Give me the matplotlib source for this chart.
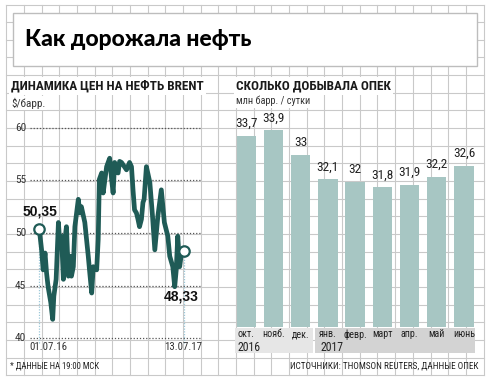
import matplotlib
matplotlib.use("Agg")
import matplotlib.pyplot as plt
import pandas as pd
from matplotlib import font_manager
from matplotlib.patches import Rectangle

# ---------------- data ----------------
brent_dates = [
    "2016-07-01", "2016-07-07", "2016-07-11", "2016-07-16", "2016-07-20", "2016-07-24",
    "2016-07-31", "2016-08-05", "2016-08-08", "2016-08-14", "2016-08-20", "2016-08-24",
    "2016-08-28", "2016-09-02", "2016-09-06", "2016-09-10", "2016-09-15", "2016-09-19",
    "2016-09-23", "2016-09-28", "2016-10-02", "2016-10-11", "2016-10-15", "2016-10-19",
    "2016-10-28", "2016-11-06", "2016-11-10", "2016-11-15", "2016-11-19", "2016-11-28",
    "2016-12-02", "2016-12-05", "2016-12-11", "2016-12-15", "2016-12-24", "2017-01-01",
    "2017-01-06", "2017-01-10", "2017-01-14", "2017-01-23", "2017-01-27", "2017-02-01",
    "2017-02-14", "2017-02-22", "2017-02-27", "2017-03-03", "2017-03-07", "2017-03-12",
    "2017-03-16", "2017-03-20", "2017-03-25", "2017-03-29", "2017-04-01", "2017-04-07",
    "2017-04-16", "2017-04-23", "2017-04-29", "2017-05-07", "2017-05-16", "2017-05-24",
    "2017-06-02", "2017-06-07", "2017-06-15", "2017-06-20", "2017-06-24", "2017-06-28",
    "2017-07-03", "2017-07-07", "2017-07-13",
]
brent_values = [
    50.35, 48.4, 46.5, 48.1, 46.2, 44.9,
    43.4, 41.8, 44.0, 45.6, 51.0, 48.7,
    49.7, 45.6, 49.4, 50.6, 45.9, 47.8,
    45.9, 46.8, 50.6, 53.2, 51.9, 52.5,
    51.0, 47.8, 46.2, 44.3, 46.8, 46.5,
    49.4, 55.1, 55.7, 53.8, 56.3, 57.1,
    55.1, 53.8, 56.7, 55.7, 56.8, 56.7,
    56.0, 56.7, 56.3, 54.1, 52.2, 51.9,
    51.3, 50.6, 51.3, 52.9, 53.2, 56.3,
    54.8, 51.6, 48.4, 51.6, 54.1, 51.0,
    49.7, 47.8, 46.8, 44.9, 46.5, 49.7,
    46.8, 47.9, 48.33,
]
brent_ticks = [40, 45, 50, 55, 60]
start_label, end_label = "50,35", "48,33"
start_date_label, end_date_label = "01.07.16", "13.07.17"

months = ["окт.", "нояб.", "дек.", "янв.", "февр.", "март", "апр.", "май", "июнь"]
opec_values = [33.7, 33.9, 33.0, 32.1, 32.0, 31.8, 31.9, 32.2, 32.6]
years = ["2016", "2017"]

# ---------------- fonts ----------------
names = {f.name for f in font_manager.fontManager.ttflist}
def pick(cands):
    for c in cands:
        if c in names:
            return c
    return "DejaVu Sans"
NARROW = pick(["Liberation Sans Narrow", "Roboto Condensed", "Open Sans Condensed", "DejaVu Sans"])
TITLE = pick(["Lato", "Open Sans", "DejaVu Sans"])
SANS = pick(["Liberation Sans", "DejaVu Sans"])

W, H = 490, 380
fig = plt.figure(figsize=(W / 100, H / 100), dpi=100)
fig.patch.set_facecolor("white")

def px_axes(x0, y0, x1, y1, z=1):
    return fig.add_axes([x0 / W, 1 - y1 / H, (x1 - x0) / W, (y1 - y0) / H], zorder=z)

# background axes in pixel coordinates
bg = px_axes(0, 0, W, H, z=0)
bg.set_xlim(0, W)
bg.set_ylim(H, 0)
bg.axis("off")

GRID = "#c9c9c9"
gx0, gdx, ncol = 6.2, 17.68, 27
gy0, gdy, nrow = 4.5, 17.66, 21
gx1 = gx0 + gdx * ncol
gy1 = gy0 + gdy * nrow
for k in range(ncol + 1):
    x = gx0 + gdx * k
    bg.plot([x, x], [gy0, gy1], color=GRID, lw=0.8, zorder=1)
for k in range(nrow + 1):
    y = gy0 + gdy * k
    bg.plot([gx0, gx1], [y, y], color=GRID, lw=0.8, zorder=1)

# title box
bg.add_patch(Rectangle((13, 13), 464, 53, facecolor="white", edgecolor="#bdbdbd", lw=1.0, zorder=2))
bg.text(25, 40, "Как дорожала нефть", fontsize=16.5, fontweight="black", family=TITLE,
        color="#000000", va="center", ha="left", zorder=3)

# headers
hb = dict(facecolor="white", edgecolor="none", pad=1.5)
bg.text(11, 86, "ДИНАМИКА ЦЕН НА НЕФТЬ BRENT", fontsize=9.5, fontweight="bold", family=NARROW,
        color="#1a1a1a", va="center", ha="left", zorder=3, bbox=hb)
bg.text(236, 86, "СКОЛЬКО ДОБЫВАЛА ОПЕК", fontsize=9.5, fontweight="bold", family=NARROW,
        color="#1a1a1a", va="center", ha="left", zorder=3, bbox=hb)
bg.text(11, 103, "$/барр.", fontsize=8, family=NARROW, color="#333333",
        va="center", ha="left", zorder=3, bbox=dict(facecolor="white", edgecolor="none", pad=1))
bg.text(236, 101, "млн барр. / сутки", fontsize=7.4, family=NARROW, color="#333333",
        va="center", ha="left", zorder=3, bbox=dict(facecolor="white", edgecolor="none", pad=1))

# footers
bg.text(10, 366.5, "* ДАННЫЕ НА 19:00 МСК", fontsize=6.2, family=NARROW, color="#222222",
        va="center", ha="left", zorder=3)
bg.text(478, 366, "ИСТОЧНИКИ: THOMSON REUTERS, ДАННЫЕ ОПЕК", fontsize=6.6, family=NARROW,
        color="#222222", va="center", ha="right", zorder=3)

# year strips
bg.add_patch(Rectangle((235, 328.3), 77.7, 25, facecolor="#e6e6e6", edgecolor="none", zorder=2))
bg.add_patch(Rectangle((315, 328.3), 160, 25, facecolor="#d3d3d3", edgecolor="none", zorder=2))
bg.text(237.5, 347.5, years[0], fontsize=8.5, family=NARROW, color="#222222",
        va="center", ha="left", zorder=3)
bg.text(320.5, 347.5, years[1], fontsize=8.5, family=NARROW, color="#222222",
        va="center", ha="left", zorder=3)

# ---------------- line chart ----------------
TEAL = "#1f5b56"
dates = pd.to_datetime(brent_dates)
d0 = dates[0]
px_per_day = (183.5 - 39.3) / (dates[-1] - d0).days
ax1 = px_axes(30, 110, 205, 355, z=3)
ax1.patch.set_alpha(0)
x_left = d0 + pd.Timedelta(days=(30 - 39.3) / px_per_day)
x_right = d0 + pd.Timedelta(days=(205 - 39.3) / px_per_day)
ax1.set_xlim(x_left, x_right)
pxu = (338.3 - 127.7) / 20.0
ax1.set_ylim(40 - (355 - 338.3) / pxu, 60 + (127.7 - 110) / pxu)
for s in ax1.spines.values():
    s.set_visible(False)
ax1.set_xticks([])
ax1.set_yticks([])

for t in brent_ticks:
    ax1.axhline(t, xmin=0, xmax=(200 - 30) / 175, color="#555555", lw=0.9,
                ls=(0, (1, 1.5)), zorder=2)
    ax1.text(x_left + pd.Timedelta(days=(15 - 30) / px_per_day), t, str(t), fontsize=8.2,
             family=NARROW, color="#333333", va="center", ha="left", clip_on=False)

ax1.plot(dates, brent_values, color=TEAL, lw=3.4, solid_joinstyle="round",
         solid_capstyle="round", zorder=4)
label_y = 40 - (347 - 338.3) / pxu
for d, v in [(dates[0], brent_values[0]), (dates[-1], brent_values[-1])]:
    ax1.plot([d, d], [v, 40 - (343 - 338.3) / pxu], color="#9cc8d8", lw=0.9,
             ls=(0, (1, 1.2)), zorder=3)
ax1.plot([dates[0], dates[-1]], [brent_values[0], brent_values[-1]], ls="none", marker="o",
         ms=7.5, mfc="white", mec=TEAL, mew=1.6, zorder=5)
ax1.text(dates[0] + pd.Timedelta(days=(48 - 39.3) / px_per_day), label_y, start_date_label,
         fontsize=7.8, family=NARROW, color="#333333", ha="center", va="center")
ax1.text(dates[-1], label_y, end_date_label, fontsize=7.8, family=NARROW, color="#333333",
         ha="center", va="center")
ax1.text(dates[0] + pd.Timedelta(days=(40 - 39.3) / px_per_day), 50 + (233.3 - 212) / pxu,
         start_label, fontsize=10, fontweight="bold", color="#111111", ha="center",
         va="center", family=SANS)
ax1.text(dates[-1] + pd.Timedelta(days=(181 - 183.5) / px_per_day), 50 - (297 - 233.3) / pxu,
         end_label, fontsize=10, fontweight="bold", color="#111111", ha="center",
         va="center", family=SANS)

# ---------------- bar chart ----------------
ax2 = px_axes(233, 110, 477, 326.7, z=3)
ax2.patch.set_alpha(0)
xs = list(range(len(months)))
ax2.bar(xs, opec_values, width=0.71, color="#a7c6c3", zorder=2)
ax2.set_xlim(-0.489, 8.48)
ax2.set_ylim(26.7, 26.7 + 216.7 / 27.3)
for s in ax2.spines.values():
    s.set_visible(False)
ax2.set_yticks([])
ax2.set_xticks(xs)
ax2.set_xticklabels(months, fontsize=7.2, family=NARROW, color="#222222")
ax2.tick_params(axis="x", length=0, pad=2)
for x, v in zip(xs, opec_values):
    lab = f"{v:g}".replace(".", ",")
    ax2.annotate(lab, (x, v), xytext=(0, 4), textcoords="offset points", ha="center",
                 va="bottom", fontsize=9.5, family=NARROW, color="#222222")

fig.savefig("out.png", dpi=100, facecolor="white")
